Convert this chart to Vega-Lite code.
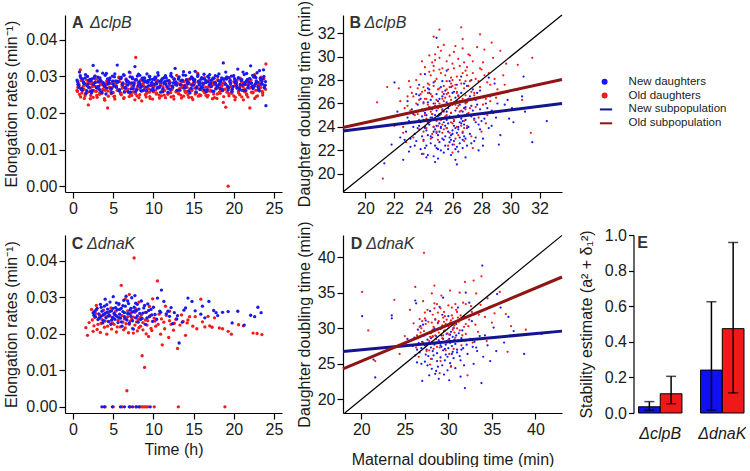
{
"$schema":"https://vega.github.io/schema/vega-lite/v6.json",
"padding":{"left":3,"top":0,"right":0,"bottom":0},
"config":{"font":"Liberation Sans","view":{"stroke":null},
"axis":{"grid":false,"domainColor":"#000","domainWidth":1.2,"tickColor":"#000","tickWidth":1.2,"tickSize":6,"labelFont":"Liberation Sans","labelFontSize":16,"labelColor":"#1a1a1a","labelPadding":2,"titleFont":"Liberation Sans","titleFontSize":16,"titleFontWeight":"normal","titleColor":"#1a1a1a","labelFlush":false,"labelOverlap":false,"tickCount":20},
"text":{"font":"Liberation Sans"}},
"datasets":{
"panels":[{"panel":"A","letter":"A","strain":"ΔclpB"},{"panel":"B","letter":"B","strain":"ΔclpB"},{"panel":"C","letter":"C","strain":"ΔdnaK"},{"panel":"D","letter":"D","strain":"ΔdnaK"},{"panel":"E","letter":"E","strain":""}],
"legend":[{"label":"New daughters"},{"label":"Old daughters"},{"label":"New subpopulation"},{"label":"Old subpopulation"}],
"E":[{"strain":"ΔclpB","g":"New","v":0.035,"lo":0.015,"hi":0.064},{"strain":"ΔclpB","g":"Old","v":0.108,"lo":0.052,"hi":0.206},{"strain":"ΔdnaK","g":"New","v":0.241,"lo":0.016,"hi":0.625},{"strain":"ΔdnaK","g":"Old","v":0.474,"lo":0.113,"hi":0.958}],
"B_lines":[{"g":"New","x":18.45,"y":23.65},{"g":"New","x":33.55,"y":26.0},{"g":"Old","x":18.45,"y":23.95},{"g":"Old","x":33.55,"y":28.05},{"g":"Diag","x":18.45,"y":18.45},{"g":"Diag","x":33.55,"y":33.55}],
"D_lines":[{"g":"New","x":17.9,"y":26.75},{"g":"New","x":43.05,"y":29.6},{"g":"Old","x":17.9,"y":24.3},{"g":"Old","x":43.05,"y":37.2},{"g":"Diag","x":18.1,"y":18.1},{"g":"Diag","x":43.05,"y":43.05}],
"A_new":[{"x":0.5,"y":0.029},{"x":0.7,"y":0.0275},{"x":0.9,"y":0.0302},{"x":1.1,"y":0.0268},{"x":1.3,"y":0.0285},{"x":1.5,"y":0.0296},{"x":1.7,"y":0.0261},{"x":1.9,"y":0.0279},{"x":2.1,"y":0.0292},{"x":2.3,"y":0.0255},{"x":2.5,"y":0.033},{"x":2.7,"y":0.0283},{"x":2.9,"y":0.0271},{"x":3.1,"y":0.0298},{"x":3.3,"y":0.0264},{"x":3.5,"y":0.0287},{"x":3.7,"y":0.0309},{"x":3.9,"y":0.0276},{"x":4.1,"y":0.0252},{"x":4.3,"y":0.0293},{"x":4.5,"y":0.0281},{"x":4.7,"y":0.0267},{"x":4.9,"y":0.0301},{"x":5.1,"y":0.0274},{"x":5.3,"y":0.0288},{"x":5.5,"y":0.0331},{"x":5.7,"y":0.0262},{"x":5.9,"y":0.0295},{"x":6.1,"y":0.0279},{"x":6.3,"y":0.0305},{"x":6.5,"y":0.027},{"x":6.7,"y":0.0286},{"x":6.9,"y":0.0258},{"x":7.1,"y":0.0299},{"x":7.3,"y":0.0282},{"x":7.5,"y":0.0266},{"x":7.7,"y":0.0327},{"x":7.9,"y":0.0291},{"x":8.1,"y":0.0275},{"x":8.3,"y":0.0303},{"x":8.5,"y":0.026},{"x":8.7,"y":0.0289},{"x":8.9,"y":0.0296},{"x":9.1,"y":0.0271},{"x":9.3,"y":0.0284},{"x":9.5,"y":0.03},{"x":9.7,"y":0.0263},{"x":9.9,"y":0.0292},{"x":10.1,"y":0.0278},{"x":10.3,"y":0.0297},{"x":10.5,"y":0.0269},{"x":10.7,"y":0.0287},{"x":10.9,"y":0.0257},{"x":11.1,"y":0.0294},{"x":11.3,"y":0.0281},{"x":11.5,"y":0.0302},{"x":11.7,"y":0.0272},{"x":11.9,"y":0.0288},{"x":12.1,"y":0.0265},{"x":12.3,"y":0.0299},{"x":12.5,"y":0.0283},{"x":12.7,"y":0.0322},{"x":12.9,"y":0.0276},{"x":13.1,"y":0.0293},{"x":13.3,"y":0.0262},{"x":13.5,"y":0.0289},{"x":13.7,"y":0.0304},{"x":13.9,"y":0.0274},{"x":14.1,"y":0.0291},{"x":14.3,"y":0.028},{"x":14.5,"y":0.0311},{"x":14.7,"y":0.0268},{"x":14.9,"y":0.0295},{"x":15.1,"y":0.0285},{"x":15.3,"y":0.0258},{"x":15.5,"y":0.03},{"x":15.7,"y":0.0277},{"x":15.9,"y":0.0292},{"x":16.1,"y":0.027},{"x":16.3,"y":0.0306},{"x":16.5,"y":0.0283},{"x":16.7,"y":0.0264},{"x":16.9,"y":0.0297},{"x":17.1,"y":0.0281},{"x":17.3,"y":0.029},{"x":17.5,"y":0.0259},{"x":17.7,"y":0.0302},{"x":17.9,"y":0.0275},{"x":18.1,"y":0.0288},{"x":18.3,"y":0.0267},{"x":18.5,"y":0.0296},{"x":18.7,"y":0.0337},{"x":18.9,"y":0.0279},{"x":19.1,"y":0.0293},{"x":19.3,"y":0.0263},{"x":19.5,"y":0.0286},{"x":19.7,"y":0.0301},{"x":19.9,"y":0.0272},{"x":20.1,"y":0.0294},{"x":20.3,"y":0.0282},{"x":20.5,"y":0.032},{"x":20.7,"y":0.0268},{"x":20.9,"y":0.029},{"x":21.1,"y":0.0277},{"x":21.3,"y":0.0305},{"x":21.5,"y":0.0261},{"x":21.7,"y":0.0292},{"x":21.9,"y":0.0284},{"x":22.1,"y":0.0329},{"x":22.3,"y":0.0273},{"x":22.5,"y":0.0298},{"x":22.7,"y":0.028},{"x":22.9,"y":0.031},{"x":23.1,"y":0.0265},{"x":23.3,"y":0.0295},{"x":23.5,"y":0.0286},{"x":23.7,"y":0.0318},{"x":23.9,"y":0.0276},{"x":24.0,"y":0.022},
{"x":0.6,"y":0.0278},{"x":0.8,"y":0.0312},{"x":1.0,"y":0.0265},{"x":1.2,"y":0.0293},{"x":1.4,"y":0.0281},{"x":1.6,"y":0.0254},{"x":1.8,"y":0.03},{"x":2.0,"y":0.027},{"x":2.2,"y":0.0288},{"x":2.4,"y":0.0262},{"x":2.6,"y":0.0296},{"x":2.8,"y":0.0284},{"x":3.0,"y":0.0315},{"x":3.2,"y":0.0273},{"x":3.4,"y":0.029},{"x":3.6,"y":0.0258},{"x":3.8,"y":0.028},{"x":4.0,"y":0.0303},{"x":4.2,"y":0.0268},{"x":4.4,"y":0.0286},{"x":4.6,"y":0.0296},{"x":4.8,"y":0.0255},{"x":5.0,"y":0.0279},{"x":5.2,"y":0.0307},{"x":5.4,"y":0.0271},{"x":5.6,"y":0.0287},{"x":5.8,"y":0.0264},{"x":6.0,"y":0.0298},{"x":6.2,"y":0.0282},{"x":6.4,"y":0.0257},{"x":6.6,"y":0.0291},{"x":6.8,"y":0.0276},{"x":7.0,"y":0.0312},{"x":7.2,"y":0.0266},{"x":7.4,"y":0.0294},{"x":7.6,"y":0.028},{"x":7.8,"y":0.0259},{"x":8.0,"y":0.0301},{"x":8.2,"y":0.0285},{"x":8.4,"y":0.027},{"x":8.6,"y":0.0295},{"x":8.8,"y":0.0263},{"x":9.0,"y":0.0288},{"x":9.2,"y":0.0307},{"x":9.4,"y":0.0275},{"x":9.6,"y":0.0292},{"x":9.8,"y":0.0284},{"x":10.0,"y":0.0261},{"x":10.2,"y":0.0298},{"x":10.4,"y":0.0279},{"x":10.6,"y":0.0303},{"x":10.8,"y":0.0273},{"x":11.0,"y":0.029},{"x":11.2,"y":0.0266},{"x":11.4,"y":0.0286},{"x":11.6,"y":0.0296},{"x":11.8,"y":0.0256},{"x":12.0,"y":0.0281},{"x":12.2,"y":0.0308},{"x":12.4,"y":0.0271},{"x":12.6,"y":0.0292},{"x":12.8,"y":0.0285},{"x":13.0,"y":0.0262},{"x":13.2,"y":0.0299},{"x":13.4,"y":0.0277},{"x":13.6,"y":0.029},{"x":13.8,"y":0.0268},{"x":14.0,"y":0.0303},{"x":14.2,"y":0.0283},{"x":14.4,"y":0.026},{"x":14.6,"y":0.0294},{"x":14.8,"y":0.0276},{"x":15.0,"y":0.0289},{"x":15.2,"y":0.0314},{"x":15.4,"y":0.027},{"x":15.6,"y":0.0287},{"x":15.8,"y":0.0264},{"x":16.0,"y":0.0297},{"x":16.2,"y":0.028},{"x":16.4,"y":0.0292},{"x":16.6,"y":0.0258},{"x":16.8,"y":0.0285},{"x":17.0,"y":0.0305},{"x":17.2,"y":0.0272},{"x":17.4,"y":0.0295},{"x":17.6,"y":0.0283},{"x":17.8,"y":0.0266},{"x":18.0,"y":0.03},{"x":18.2,"y":0.0278},{"x":18.4,"y":0.0289},{"x":18.6,"y":0.0261},{"x":18.8,"y":0.0293},{"x":19.0,"y":0.0312},{"x":19.2,"y":0.0274},{"x":19.4,"y":0.0297},{"x":19.6,"y":0.0281},{"x":19.8,"y":0.0265},{"x":20.0,"y":0.0302},{"x":20.2,"y":0.0287},{"x":20.4,"y":0.027},{"x":20.6,"y":0.0296},{"x":20.8,"y":0.0278},{"x":21.0,"y":0.0291},{"x":21.2,"y":0.0262},{"x":21.4,"y":0.0284},{"x":21.6,"y":0.0308},{"x":21.8,"y":0.0275},{"x":22.0,"y":0.0294},{"x":22.2,"y":0.0282},{"x":22.4,"y":0.0267},{"x":22.6,"y":0.03},{"x":22.8,"y":0.0288},{"x":23.0,"y":0.0272},{"x":23.2,"y":0.0316},{"x":23.4,"y":0.0279},{"x":23.6,"y":0.0293},{"x":23.8,"y":0.0269},
{"x":0.55,"y":0.0286},{"x":0.75,"y":0.027},{"x":0.95,"y":0.0297},{"x":1.15,"y":0.0262},{"x":1.35,"y":0.0281},{"x":1.55,"y":0.0305},{"x":1.75,"y":0.0274},{"x":1.95,"y":0.0289},{"x":2.15,"y":0.0259},{"x":2.35,"y":0.0293},{"x":2.55,"y":0.0278},{"x":2.75,"y":0.0301},{"x":2.95,"y":0.0268},{"x":3.15,"y":0.0285},{"x":3.35,"y":0.0296},{"x":3.55,"y":0.0256},{"x":3.75,"y":0.0283},{"x":3.95,"y":0.0272},{"x":4.15,"y":0.0308},{"x":4.35,"y":0.0279},{"x":4.55,"y":0.029},{"x":4.75,"y":0.0265},{"x":4.95,"y":0.0287},{"x":5.15,"y":0.0299},{"x":5.35,"y":0.0271},{"x":5.55,"y":0.0284},{"x":5.75,"y":0.026},{"x":5.95,"y":0.0294},{"x":6.15,"y":0.0277},{"x":6.35,"y":0.0303},{"x":6.55,"y":0.0269},{"x":6.75,"y":0.0288},{"x":6.95,"y":0.0282},{"x":7.15,"y":0.0257},{"x":7.35,"y":0.0298},{"x":7.55,"y":0.0275},{"x":7.75,"y":0.0291},{"x":7.95,"y":0.0264},{"x":8.15,"y":0.0306},{"x":8.35,"y":0.028},{"x":8.55,"y":0.0273},{"x":8.75,"y":0.0295},{"x":8.95,"y":0.0286},{"x":9.15,"y":0.0261},{"x":9.35,"y":0.0289},{"x":9.55,"y":0.03},{"x":9.75,"y":0.0276},{"x":9.95,"y":0.0267},{"x":10.15,"y":0.0292},{"x":10.35,"y":0.0283},{"x":10.55,"y":0.031},{"x":10.75,"y":0.027},{"x":10.95,"y":0.0285},{"x":11.15,"y":0.0258},{"x":11.35,"y":0.0297},{"x":11.55,"y":0.0279},{"x":11.75,"y":0.0288},{"x":11.95,"y":0.0266},{"x":12.15,"y":0.0302},{"x":12.35,"y":0.0274},{"x":12.55,"y":0.0293},{"x":12.75,"y":0.0281},{"x":12.95,"y":0.0262},{"x":13.15,"y":0.0296},{"x":13.35,"y":0.0278},{"x":13.55,"y":0.0287},{"x":13.75,"y":0.0313},{"x":13.95,"y":0.0269},{"x":14.15,"y":0.029},{"x":14.35,"y":0.0284},{"x":14.55,"y":0.0255},{"x":14.75,"y":0.0299},{"x":14.95,"y":0.0276},{"x":15.15,"y":0.0291},{"x":15.35,"y":0.0268},{"x":15.55,"y":0.0304},{"x":15.75,"y":0.0282},{"x":15.95,"y":0.0271},{"x":16.15,"y":0.0294},{"x":16.35,"y":0.0263},{"x":16.55,"y":0.0286},{"x":16.75,"y":0.03},{"x":16.95,"y":0.0277},{"x":17.15,"y":0.0289},{"x":17.35,"y":0.026},{"x":17.55,"y":0.0295},{"x":17.75,"y":0.0281},{"x":17.95,"y":0.0272},{"x":18.15,"y":0.0307},{"x":18.35,"y":0.0285},{"x":18.55,"y":0.0266},{"x":18.75,"y":0.0292},{"x":18.95,"y":0.0279},{"x":19.15,"y":0.0298},{"x":19.35,"y":0.027},{"x":19.55,"y":0.0288},{"x":19.75,"y":0.0259},{"x":19.95,"y":0.0301},{"x":20.15,"y":0.0283},{"x":20.35,"y":0.0275},{"x":20.55,"y":0.0296},{"x":20.75,"y":0.0264},{"x":20.95,"y":0.029},{"x":21.15,"y":0.0312},{"x":21.35,"y":0.0278},{"x":21.55,"y":0.0287},{"x":21.75,"y":0.0269},{"x":21.95,"y":0.0294},{"x":22.15,"y":0.0281},{"x":22.35,"y":0.0303},{"x":22.55,"y":0.0273},{"x":22.75,"y":0.0297},{"x":22.95,"y":0.0284},{"x":23.15,"y":0.0262},{"x":23.35,"y":0.0291},{"x":23.55,"y":0.0279},{"x":23.75,"y":0.03},{"x":23.95,"y":0.0286}],
"A_old":[{"x":0.5,"y":0.0262},{"x":0.7,"y":0.0281},{"x":0.9,"y":0.0318},{"x":1.1,"y":0.0255},{"x":1.3,"y":0.0274},{"x":1.5,"y":0.0247},{"x":1.7,"y":0.029},{"x":1.9,"y":0.0222},{"x":2.1,"y":0.0268},{"x":2.3,"y":0.0279},{"x":2.5,"y":0.0243},{"x":2.7,"y":0.0301},{"x":2.9,"y":0.0259},{"x":3.1,"y":0.0272},{"x":3.3,"y":0.0251},{"x":3.5,"y":0.0285},{"x":3.7,"y":0.0264},{"x":3.9,"y":0.0239},{"x":4.1,"y":0.0276},{"x":4.3,"y":0.0214},{"x":4.5,"y":0.0293},{"x":4.7,"y":0.0258},{"x":4.9,"y":0.027},{"x":5.1,"y":0.0245},{"x":5.3,"y":0.0283},{"x":5.5,"y":0.0262},{"x":5.7,"y":0.0298},{"x":5.9,"y":0.0253},{"x":6.1,"y":0.0274},{"x":6.3,"y":0.024},{"x":6.5,"y":0.0267},{"x":6.7,"y":0.0288},{"x":6.9,"y":0.0256},{"x":7.1,"y":0.031},{"x":7.3,"y":0.0248},{"x":7.5,"y":0.0271},{"x":7.7,"y":0.0236},{"x":7.8,"y":0.0352},{"x":7.9,"y":0.0265},{"x":8.1,"y":0.0282},{"x":8.3,"y":0.025},{"x":8.5,"y":0.0276},{"x":8.7,"y":0.0261},{"x":8.9,"y":0.0294},{"x":9.1,"y":0.0244},{"x":9.3,"y":0.0269},{"x":9.5,"y":0.0257},{"x":9.7,"y":0.028},{"x":9.9,"y":0.0238},{"x":10.1,"y":0.0273},{"x":10.3,"y":0.0263},{"x":10.5,"y":0.0289},{"x":10.7,"y":0.0249},{"x":10.9,"y":0.0277},{"x":11.1,"y":0.0259},{"x":11.3,"y":0.0296},{"x":11.5,"y":0.0242},{"x":11.7,"y":0.027},{"x":11.9,"y":0.0255},{"x":12.1,"y":0.0284},{"x":12.3,"y":0.0264},{"x":12.5,"y":0.0246},{"x":12.7,"y":0.0278},{"x":12.9,"y":0.0303},{"x":13.1,"y":0.0253},{"x":13.3,"y":0.0268},{"x":13.5,"y":0.0241},{"x":13.7,"y":0.0287},{"x":13.9,"y":0.026},{"x":14.1,"y":0.0275},{"x":14.3,"y":0.025},{"x":14.5,"y":0.0292},{"x":14.7,"y":0.0263},{"x":14.9,"y":0.0237},{"x":15.1,"y":0.0279},{"x":15.3,"y":0.0256},{"x":15.5,"y":0.0309},{"x":15.7,"y":0.0266},{"x":15.9,"y":0.0248},{"x":16.1,"y":0.0282},{"x":16.3,"y":0.0258},{"x":16.5,"y":0.0271},{"x":16.7,"y":0.0244},{"x":16.9,"y":0.029},{"x":17.1,"y":0.0261},{"x":17.3,"y":0.0276},{"x":17.5,"y":0.0252},{"x":17.7,"y":0.0285},{"x":17.9,"y":0.024},{"x":18.1,"y":0.0269},{"x":18.3,"y":0.0254},{"x":18.5,"y":0.0281},{"x":18.7,"y":0.0229},{"x":18.9,"y":0.0265},{"x":19.1,"y":0.0298},{"x":19.3,"y":0.0},{"x":19.4,"y":0.0247},{"x":19.6,"y":0.0273},{"x":19.8,"y":0.0259},{"x":20.0,"y":0.0286},{"x":20.2,"y":0.0243},{"x":20.4,"y":0.0268},{"x":20.6,"y":0.0255},{"x":20.8,"y":0.0295},{"x":21.0,"y":0.0262},{"x":21.2,"y":0.0236},{"x":21.4,"y":0.0279},{"x":21.6,"y":0.025},{"x":21.8,"y":0.0288},{"x":22.0,"y":0.0214},{"x":22.2,"y":0.0271},{"x":22.4,"y":0.0257},{"x":22.6,"y":0.0305},{"x":22.8,"y":0.0245},{"x":23.0,"y":0.0277},{"x":23.2,"y":0.026},{"x":23.4,"y":0.0291},{"x":23.6,"y":0.0249},{"x":23.8,"y":0.0274},{"x":24.0,"y":0.0334},
{"x":0.6,"y":0.027},{"x":0.8,"y":0.0251},{"x":1.0,"y":0.0289},{"x":1.2,"y":0.0263},{"x":1.4,"y":0.024},{"x":1.6,"y":0.0278},{"x":1.8,"y":0.0257},{"x":2.0,"y":0.0284},{"x":2.2,"y":0.0248},{"x":2.4,"y":0.0272},{"x":2.6,"y":0.026},{"x":2.8,"y":0.0292},{"x":3.0,"y":0.0243},{"x":3.2,"y":0.0266},{"x":3.4,"y":0.028},{"x":3.6,"y":0.0254},{"x":3.8,"y":0.0275},{"x":4.0,"y":0.0262},{"x":4.2,"y":0.0288},{"x":4.4,"y":0.0246},{"x":4.6,"y":0.0269},{"x":4.8,"y":0.0281},{"x":5.0,"y":0.0256},{"x":5.2,"y":0.0238},{"x":5.4,"y":0.0274},{"x":5.6,"y":0.0263},{"x":5.8,"y":0.0286},{"x":6.0,"y":0.025},{"x":6.2,"y":0.0271},{"x":6.4,"y":0.0259},{"x":6.6,"y":0.0293},{"x":6.8,"y":0.0265},{"x":7.0,"y":0.0245},{"x":7.2,"y":0.0279},{"x":7.4,"y":0.0257},{"x":7.6,"y":0.0284},{"x":7.8,"y":0.0253},{"x":8.0,"y":0.027},{"x":8.2,"y":0.0242},{"x":8.4,"y":0.0289},{"x":8.6,"y":0.0261},{"x":8.8,"y":0.0274},{"x":9.0,"y":0.025},{"x":9.2,"y":0.0283},{"x":9.4,"y":0.0266},{"x":9.6,"y":0.024},{"x":9.8,"y":0.0277},{"x":10.0,"y":0.0258},{"x":10.2,"y":0.029},{"x":10.4,"y":0.0254},{"x":10.6,"y":0.0268},{"x":10.8,"y":0.0282},{"x":11.0,"y":0.0247},{"x":11.2,"y":0.0272},{"x":11.4,"y":0.0261},{"x":11.6,"y":0.0287},{"x":11.8,"y":0.0251},{"x":12.0,"y":0.0275},{"x":12.2,"y":0.0244},{"x":12.4,"y":0.0269},{"x":12.6,"y":0.0293},{"x":12.8,"y":0.0258},{"x":13.0,"y":0.0281},{"x":13.2,"y":0.0264},{"x":13.4,"y":0.0249},{"x":13.6,"y":0.0276},{"x":13.8,"y":0.0286},{"x":14.0,"y":0.0256},{"x":14.2,"y":0.027},{"x":14.4,"y":0.0243},{"x":14.6,"y":0.0279},{"x":14.8,"y":0.0262},{"x":15.0,"y":0.029},{"x":15.2,"y":0.0252},{"x":15.4,"y":0.0273},{"x":15.6,"y":0.0246},{"x":15.8,"y":0.0284},{"x":16.0,"y":0.0265},{"x":16.2,"y":0.0277},{"x":16.4,"y":0.0255},{"x":16.6,"y":0.0288},{"x":16.8,"y":0.0248},{"x":17.0,"y":0.0271},{"x":17.2,"y":0.026},{"x":17.4,"y":0.0282},{"x":17.6,"y":0.0242},{"x":17.8,"y":0.0268},{"x":18.0,"y":0.0291},{"x":18.2,"y":0.0257},{"x":18.4,"y":0.0274},{"x":18.6,"y":0.0263},{"x":18.8,"y":0.0285},{"x":19.0,"y":0.0216},{"x":19.2,"y":0.027},{"x":19.4,"y":0.0253},{"x":19.6,"y":0.028},{"x":19.8,"y":0.0266},{"x":20.0,"y":0.0247},{"x":20.2,"y":0.0276},{"x":20.4,"y":0.0289},{"x":20.6,"y":0.0259},{"x":20.8,"y":0.0273},{"x":21.0,"y":0.0244},{"x":21.2,"y":0.0283},{"x":21.4,"y":0.0265},{"x":21.6,"y":0.0252},{"x":21.8,"y":0.0278},{"x":22.0,"y":0.029},{"x":22.2,"y":0.0257},{"x":22.4,"y":0.0269},{"x":22.6,"y":0.024},{"x":22.8,"y":0.0281},{"x":23.0,"y":0.0263},{"x":23.2,"y":0.0275},{"x":23.4,"y":0.0298},{"x":23.6,"y":0.0255},{"x":23.8,"y":0.027},
{"x":0.55,"y":0.0259},{"x":0.75,"y":0.0276},{"x":0.95,"y":0.0244},{"x":1.15,"y":0.0288},{"x":1.35,"y":0.0265},{"x":1.55,"y":0.0251},{"x":1.75,"y":0.028},{"x":1.95,"y":0.027},{"x":2.15,"y":0.0239},{"x":2.35,"y":0.0284},{"x":2.55,"y":0.0262},{"x":2.75,"y":0.0273},{"x":2.95,"y":0.0248},{"x":3.15,"y":0.0291},{"x":3.35,"y":0.0257},{"x":3.55,"y":0.0278},{"x":3.75,"y":0.0266},{"x":3.95,"y":0.0235},{"x":4.15,"y":0.0282},{"x":4.35,"y":0.026},{"x":4.55,"y":0.0271},{"x":4.75,"y":0.0253},{"x":4.95,"y":0.0287},{"x":5.15,"y":0.0246},{"x":5.35,"y":0.0275},{"x":5.55,"y":0.0264},{"x":5.75,"y":0.0296},{"x":5.95,"y":0.0255},{"x":6.15,"y":0.0268},{"x":6.35,"y":0.0242},{"x":6.55,"y":0.0279},{"x":6.75,"y":0.0261},{"x":6.95,"y":0.0285},{"x":7.15,"y":0.025},{"x":7.35,"y":0.0272},{"x":7.55,"y":0.0258},{"x":7.75,"y":0.029},{"x":7.95,"y":0.0247},{"x":8.15,"y":0.0277},{"x":8.35,"y":0.0263},{"x":8.55,"y":0.0233},{"x":8.75,"y":0.0281},{"x":8.95,"y":0.0269},{"x":9.15,"y":0.0254},{"x":9.35,"y":0.0286},{"x":9.55,"y":0.0245},{"x":9.75,"y":0.0274},{"x":9.95,"y":0.026},{"x":10.15,"y":0.0293},{"x":10.35,"y":0.0252},{"x":10.55,"y":0.027},{"x":10.75,"y":0.0241},{"x":10.95,"y":0.0283},{"x":11.15,"y":0.0264},{"x":11.35,"y":0.0249},{"x":11.55,"y":0.0278},{"x":11.75,"y":0.0267},{"x":11.95,"y":0.0289},{"x":12.15,"y":0.0256},{"x":12.35,"y":0.0273},{"x":12.55,"y":0.0238},{"x":12.75,"y":0.028},{"x":12.95,"y":0.0262},{"x":13.15,"y":0.0253},{"x":13.35,"y":0.0287},{"x":13.55,"y":0.027},{"x":13.75,"y":0.0246},{"x":13.95,"y":0.0276},{"x":14.15,"y":0.0259},{"x":14.35,"y":0.0292},{"x":14.55,"y":0.0265},{"x":14.75,"y":0.0243},{"x":14.95,"y":0.0281},{"x":15.15,"y":0.0268},{"x":15.35,"y":0.0255},{"x":15.55,"y":0.0284},{"x":15.75,"y":0.025},{"x":15.95,"y":0.0274},{"x":16.15,"y":0.0262},{"x":16.35,"y":0.0297},{"x":16.55,"y":0.0248},{"x":16.75,"y":0.0271},{"x":16.95,"y":0.026},{"x":17.15,"y":0.0283},{"x":17.35,"y":0.0239},{"x":17.55,"y":0.0277},{"x":17.75,"y":0.0266},{"x":17.95,"y":0.0252},{"x":18.15,"y":0.0288},{"x":18.35,"y":0.0263},{"x":18.55,"y":0.0275},{"x":18.75,"y":0.0245},{"x":18.95,"y":0.028},{"x":19.15,"y":0.0257},{"x":19.35,"y":0.0269},{"x":19.55,"y":0.0291},{"x":19.75,"y":0.0254},{"x":19.95,"y":0.0273},{"x":20.15,"y":0.0236},{"x":20.35,"y":0.0282},{"x":20.55,"y":0.0264},{"x":20.75,"y":0.025},{"x":20.95,"y":0.0286},{"x":21.15,"y":0.0271},{"x":21.35,"y":0.0258},{"x":21.55,"y":0.0279},{"x":21.75,"y":0.0244},{"x":21.95,"y":0.0268},{"x":22.15,"y":0.029},{"x":22.35,"y":0.0255},{"x":22.55,"y":0.0276},{"x":22.75,"y":0.0262},{"x":22.95,"y":0.0247},{"x":23.15,"y":0.0283},{"x":23.35,"y":0.027},{"x":23.55,"y":0.0259},{"x":23.75,"y":0.0294},{"x":23.95,"y":0.0265}],
"B_new":[{"x":25.1,"y":24.3},{"x":24.6,"y":23.1},{"x":26.2,"y":25.4},{"x":25.8,"y":22.7},{"x":23.9,"y":24.9},{"x":27.1,"y":24.0},{"x":24.3,"y":26.1},{"x":26.7,"y":23.5},{"x":25.4,"y":25.8},{"x":22.8,"y":23.6},{"x":28.2,"y":25.1},{"x":24.9,"y":22.2},{"x":26.0,"y":26.9},{"x":25.6,"y":24.6},{"x":23.5,"y":22.8},{"x":27.6,"y":26.3},{"x":24.1,"y":25.2},{"x":26.4,"y":21.9},{"x":25.2,"y":27.4},{"x":29.0,"y":24.8},{"x":24.7,"y":24.0},{"x":26.9,"y":25.7},{"x":23.2,"y":25.5},{"x":25.9,"y":23.3},{"x":27.3,"y":22.6},{"x":24.4,"y":27.2},{"x":26.1,"y":24.5},{"x":25.0,"y":21.3},{"x":28.6,"y":26.6},{"x":22.5,"y":24.3},{"x":26.6,"y":28.3},{"x":24.8,"y":25.0},{"x":27.9,"y":23.8},{"x":25.3,"y":23.0},{"x":23.7,"y":26.7},{"x":26.3,"y":22.3},{"x":25.7,"y":25.6},{"x":24.2,"y":23.7},{"x":29.6,"y":25.9},{"x":27.0,"y":27.5},{"x":25.5,"y":24.1},{"x":23.0,"y":21.9},{"x":26.8,"y":24.2},{"x":24.0,"y":24.6},{"x":28.0,"y":24.5},{"x":25.1,"y":26.4},{"x":26.5,"y":23.1},{"x":22.2,"y":25.3},{"x":24.5,"y":22.6},{"x":27.4,"y":25.4},{"x":30.2,"y":24.4},{"x":25.8,"y":27.9},{"x":24.9,"y":25.4},{"x":26.2,"y":23.9},{"x":23.4,"y":23.4},{"x":27.8,"y":22.0},{"x":25.4,"y":22.9},{"x":26.0,"y":24.8},{"x":24.6,"y":26.6},{"x":28.9,"y":27.7},{"x":21.8,"y":22.5},{"x":25.2,"y":25.1},{"x":26.9,"y":26.1},{"x":24.3,"y":24.4},{"x":27.2,"y":23.4},{"x":23.8,"y":22.1},{"x":25.6,"y":28.8},{"x":26.4,"y":25.0},{"x":29.3,"y":23.3},{"x":24.1,"y":23.9},{"x":25.9,"y":21.6},{"x":27.5,"y":24.7},{"x":23.6,"y":25.9},{"x":26.7,"y":22.9},{"x":25.0,"y":24.9},{"x":28.4,"y":25.6},{"x":24.8,"y":21.0},{"x":26.1,"y":27.0},{"x":22.9,"y":26.2},{"x":27.7,"y":26.9},{"x":25.3,"y":24.7},{"x":24.4,"y":25.7},{"x":30.8,"y":26.6},{"x":26.6,"y":24.3},{"x":23.3,"y":24.0},{"x":25.7,"y":23.6},{"x":28.1,"y":23.0},{"x":24.2,"y":22.4},{"x":26.3,"y":26.2},{"x":31.5,"y":22.7},{"x":25.5,"y":22.4},{"x":27.0,"y":25.1},{"x":24.7,"y":27.8},{"x":26.8,"y":23.2},{"x":23.1,"y":23.0},{"x":25.1,"y":23.6},{"x":29.8,"y":26.3},{"x":24.0,"y":25.4},{"x":26.5,"y":25.9},{"x":27.3,"y":28.0},{"x":32.5,"y":24.5},{"x":25.8,"y":24.9},{"x":24.5,"y":24.8},{"x":26.2,"y":22.1},{"x":28.7,"y":24.1},{"x":23.7,"y":27.6},{"x":25.9,"y":26.0},{"x":27.9,"y":25.5},{"x":24.9,"y":23.5},{"x":26.0,"y":23.7},{"x":21.3,"y":20.9},{"x":30.5,"y":27.2},{"x":25.4,"y":26.8},{"x":26.9,"y":21.4},{"x":24.3,"y":21.6},{"x":27.6,"y":24.4},{"x":22.6,"y":21.2},{"x":28.5,"y":28.2},{"x":25.6,"y":25.3},{"x":24.1,"y":28.5},{"x":26.4,"y":24.0},{"x":23.9,"y":23.2},{"x":27.2,"y":26.6},{"x":31.0,"y":25.3},{"x":25.2,"y":22.0},{"x":24.6,"y":24.8},{"x":26.7,"y":25.3},{"x":29.2,"y":22.5},{"x":23.5,"y":26.8},{"x":25.0,"y":25.7},{"x":24.9,"y":31.6},{"x":26.3,"y":20.8},{"x":22.0,"y":27.8},{"x":30.9,"y":28.3},
{"x":25.3,"y":25.5},{"x":24.8,"y":23.8},{"x":26.1,"y":22.8},{"x":25.6,"y":26.1},{"x":24.2,"y":25.0},{"x":26.6,"y":24.7},{"x":25.0,"y":23.3},{"x":27.0,"y":23.9},{"x":23.8,"y":24.4},{"x":25.9,"y":25.2},{"x":26.4,"y":26.7},{"x":24.5,"y":23.2},{"x":25.2,"y":24.0},{"x":27.3,"y":24.9},{"x":23.6,"y":23.9},{"x":26.0,"y":22.5},{"x":24.7,"y":26.0},{"x":25.7,"y":24.3},{"x":28.3,"y":26.0},{"x":24.0,"y":22.9},{"x":26.9,"y":24.6},{"x":25.4,"y":21.8},{"x":23.3,"y":25.1},{"x":27.6,"y":23.1},{"x":24.4,"y":24.2},{"x":26.2,"y":26.5},{"x":25.1,"y":22.7},{"x":28.8,"y":25.2},{"x":24.9,"y":26.8},{"x":26.5,"y":24.4},{"x":23.9,"y":21.7},{"x":25.8,"y":23.1},{"x":27.1,"y":26.4},{"x":24.6,"y":25.5},{"x":26.3,"y":23.5},{"x":22.7,"y":22.9},{"x":25.5,"y":27.1},{"x":27.8,"y":24.2},{"x":24.1,"y":24.0},{"x":26.8,"y":25.6},{"x":25.0,"y":26.2},{"x":23.4,"y":22.4},{"x":26.0,"y":25.9},{"x":28.1,"y":22.4},{"x":24.7,"y":21.5},{"x":25.6,"y":23.9},{"x":27.4,"y":27.2},{"x":24.3,"y":23.3},{"x":26.7,"y":22.2},{"x":25.3,"y":26.6},{"x":23.0,"y":24.5},{"x":26.1,"y":24.1},{"x":29.1,"y":26.0},{"x":24.8,"y":22.4},{"x":25.9,"y":27.4},{"x":27.2,"y":25.0},{"x":24.5,"y":26.3},{"x":26.4,"y":23.8},{"x":22.4,"y":23.1},{"x":25.2,"y":23.9},{"x":27.7,"y":25.9},{"x":24.0,"y":26.1},{"x":26.6,"y":26.9},{"x":25.7,"y":22.1},{"x":23.7,"y":24.1},{"x":28.5,"y":23.9},{"x":25.1,"y":25.0},{"x":26.3,"y":27.6},{"x":24.2,"y":21.4},{"x":27.5,"y":22.8},{"x":25.4,"y":24.4},{"x":23.1,"y":22.3},{"x":26.9,"y":23.0},{"x":24.6,"y":25.1},{"x":25.8,"y":25.8},{"x":29.9,"y":24.7},{"x":24.3,"y":27.3},{"x":26.2,"y":21.2},{"x":25.0,"y":22.1},{"x":27.9,"y":27.1},{"x":23.5,"y":25.3},{"x":26.5,"y":22.6},{"x":25.6,"y":24.8},{"x":24.1,"y":22.2},{"x":27.3,"y":25.8},{"x":25.3,"y":27.9},{"x":26.7,"y":24.5},{"x":22.9,"y":24.8},{"x":28.2,"y":24.7},{"x":24.9,"y":24.1},{"x":30.1,"y":25.6},{"x":26.0,"y":23.4},{"x":24.4,"y":26.9},{"x":25.5,"y":23.2},{"x":27.0,"y":22.4},{"x":23.8,"y":26.4},{"x":26.8,"y":27.7},{"x":25.9,"y":22.9},{"x":28.7,"y":25.4},{"x":24.7,"y":23.6}],
"B_old":[{"x":25.6,"y":26.8},{"x":24.9,"y":28.1},{"x":26.5,"y":25.3},{"x":27.2,"y":27.9},{"x":24.1,"y":25.0},{"x":26.0,"y":29.4},{"x":25.3,"y":24.2},{"x":27.8,"y":26.5},{"x":23.7,"y":26.3},{"x":26.8,"y":23.9},{"x":25.1,"y":27.3},{"x":28.5,"y":28.6},{"x":24.6,"y":23.4},{"x":26.3,"y":27.0},{"x":22.9,"y":25.8},{"x":27.5,"y":24.6},{"x":25.8,"y":30.1},{"x":24.3,"y":26.9},{"x":26.9,"y":28.8},{"x":23.4,"y":24.4},{"x":25.0,"y":25.6},{"x":28.1,"y":25.9},{"x":26.2,"y":23.0},{"x":24.7,"y":29.2},{"x":27.0,"y":26.1},{"x":25.5,"y":24.9},{"x":23.1,"y":27.4},{"x":26.7,"y":30.7},{"x":24.0,"y":23.6},{"x":29.1,"y":27.2},{"x":25.9,"y":26.3},{"x":27.4,"y":29.6},{"x":24.4,"y":27.6},{"x":26.1,"y":24.6},{"x":22.4,"y":26.2},{"x":28.3,"y":24.3},{"x":25.2,"y":28.6},{"x":26.6,"y":32.5},{"x":23.9,"y":25.5},{"x":27.7,"y":30.8},{"x":24.8,"y":26.0},{"x":26.4,"y":25.8},{"x":25.7,"y":22.4},{"x":28.8,"y":29.9},{"x":23.5,"y":28.0},{"x":26.9,"y":26.7},{"x":25.4,"y":31.0},{"x":24.2,"y":24.7},{"x":27.1,"y":25.2},{"x":22.0,"y":24.1},{"x":25.9,"y":27.7},{"x":29.5,"y":28.4},{"x":24.5,"y":25.3},{"x":26.8,"y":22.8},{"x":25.1,"y":29.9},{"x":27.9,"y":27.4},{"x":23.3,"y":23.1},{"x":26.0,"y":26.0},{"x":24.7,"y":31.7},{"x":28.0,"y":23.6},{"x":25.6,"y":25.0},{"x":26.3,"y":28.3},{"x":23.8,"y":26.8},{"x":27.3,"y":23.2},{"x":24.9,"y":24.5},{"x":30.0,"y":27.1},{"x":25.3,"y":27.0},{"x":26.6,"y":24.1},{"x":22.6,"y":24.0},{"x":27.6,"y":28.1},{"x":24.1,"y":27.1},{"x":26.1,"y":30.4},{"x":25.8,"y":23.5},{"x":28.6,"y":26.2},{"x":23.6,"y":25.1},{"x":26.7,"y":26.4},{"x":25.0,"y":22.9},{"x":29.7,"y":29.4},{"x":24.4,"y":28.7},{"x":27.2,"y":25.6},{"x":21.2,"y":19.6},{"x":25.5,"y":26.5},{"x":26.4,"y":23.3},{"x":24.0,"y":22.8},{"x":28.2,"y":30.6},{"x":25.2,"y":25.7},{"x":23.0,"y":27.9},{"x":27.0,"y":29.1},{"x":26.0,"y":21.8},{"x":24.6,"y":26.6},{"x":31.5,"y":29.9},{"x":25.7,"y":28.9},{"x":26.9,"y":25.0},{"x":23.7,"y":23.8},{"x":27.8,"y":24.8},{"x":24.8,"y":30.2},{"x":26.2,"y":27.6},{"x":22.3,"y":27.3},{"x":28.9,"y":25.3},{"x":25.4,"y":23.8},{"x":25.1,"y":32.3},{"x":27.4,"y":22.2},{"x":24.3,"y":25.9},{"x":26.5,"y":29.2},{"x":23.2,"y":26.9},{"x":29.3,"y":30.5},{"x":25.9,"y":24.4},{"x":26.8,"y":27.3},{"x":24.5,"y":23.0},{"x":30.5,"y":29.3},{"x":22.8,"y":22.7},{"x":25.6,"y":27.9},{"x":27.1,"y":30.2},{"x":24.2,"y":26.4},{"x":26.3,"y":25.6},{"x":21.5,"y":27.4},{"x":28.4,"y":27.8},{"x":25.0,"y":30.8},{"x":26.7,"y":23.6},{"x":23.9,"y":29.6},{"x":27.5,"y":26.9},{"x":25.3,"y":25.4},{"x":24.7,"y":27.5},{"x":30.8,"y":26.3},{"x":26.1,"y":22.5},{"x":22.6,"y":23.5},{"x":31.4,"y":23.5},{"x":20.8,"y":26.1},{"x":27.9,"y":31.9},{"x":24.0,"y":21.7},
{"x":25.4,"y":26.2},{"x":26.2,"y":27.3},{"x":24.6,"y":25.1},{"x":27.0,"y":28.4},{"x":25.8,"y":24.8},{"x":23.9,"y":27.0},{"x":26.9,"y":25.5},{"x":25.1,"y":26.0},{"x":28.0,"y":28.9},{"x":24.3,"y":24.3},{"x":26.4,"y":29.8},{"x":25.6,"y":23.9},{"x":27.5,"y":26.7},{"x":24.8,"y":27.9},{"x":26.1,"y":26.1},{"x":23.4,"y":25.0},{"x":25.3,"y":29.0},{"x":27.7,"y":25.1},{"x":24.1,"y":26.4},{"x":26.6,"y":27.7},{"x":25.9,"y":25.2},{"x":28.6,"y":27.6},{"x":24.5,"y":28.4},{"x":26.3,"y":24.0},{"x":25.0,"y":27.2},{"x":27.2,"y":30.1},{"x":23.7,"y":24.6},{"x":26.0,"y":28.0},{"x":25.7,"y":26.9},{"x":29.0,"y":26.5},{"x":24.4,"y":25.7},{"x":26.8,"y":29.5},{"x":25.2,"y":24.6},{"x":27.9,"y":29.0},{"x":24.9,"y":26.3},{"x":26.5,"y":26.2},{"x":23.1,"y":25.4},{"x":25.5,"y":28.4},{"x":28.3,"y":26.4},{"x":24.0,"y":26.0},{"x":26.7,"y":28.6},{"x":25.8,"y":27.4},{"x":24.7,"y":24.0},{"x":27.3,"y":27.0},{"x":25.1,"y":25.1},{"x":26.2,"y":30.9},{"x":23.6,"y":27.3},{"x":28.9,"y":28.1},{"x":25.6,"y":29.6},{"x":24.2,"y":23.9},{"x":26.9,"y":27.9},{"x":25.3,"y":26.4},{"x":27.6,"y":25.7},{"x":24.6,"y":29.5},{"x":26.0,"y":24.3},{"x":22.7,"y":25.6},{"x":25.9,"y":28.2},{"x":28.1,"y":29.5},{"x":24.8,"y":25.8},{"x":26.4,"y":26.6},{"x":25.0,"y":24.1},{"x":27.1,"y":27.5},{"x":23.8,"y":28.5},{"x":26.6,"y":25.4},{"x":25.4,"y":27.5},{"x":29.6,"y":27.6},{"x":24.3,"y":27.7},{"x":26.1,"y":29.0},{"x":25.7,"y":25.9},{"x":27.4,"y":28.6},{"x":24.9,"y":23.6},{"x":26.3,"y":26.9},{"x":23.3,"y":26.6},{"x":25.2,"y":30.5},{"x":28.4,"y":25.0},{"x":24.5,"y":26.8},{"x":26.8,"y":24.5},{"x":25.6,"y":27.2},{"x":27.8,"y":27.9},{"x":24.1,"y":29.1},{"x":26.5,"y":28.0},{"x":25.1,"y":28.9},{"x":23.5,"y":26.0},{"x":27.0,"y":24.1},{"x":25.8,"y":26.6},{"x":24.7,"y":28.8},{"x":26.2,"y":25.9},{"x":28.7,"y":31.2},{"x":25.4,"y":25.3},{"x":24.0,"y":27.4},{"x":26.7,"y":31.5},{"x":25.3,"y":23.5},{"x":27.2,"y":26.3},{"x":24.4,"y":30.1},{"x":26.0,"y":27.5},{"x":22.9,"y":26.6},{"x":25.5,"y":25.8},{"x":28.2,"y":28.4},{"x":24.8,"y":29.7},{"x":26.9,"y":26.0}],
"C_new":[{"x":2.5,"y":0.0258},{"x":2.7,"y":0.0262},{"x":2.8,"y":0.0247},{"x":3.0,"y":0.027},{"x":3.1,"y":0.0239},{"x":3.2,"y":0.0255},{"x":3.4,"y":0.0281},{"x":3.5,"y":0.0248},{"x":3.6,"y":0.0262},{"x":3.7,"y":0.023},{"x":3.8,"y":0.0253},{"x":3.9,"y":0.0276},{"x":4.0,"y":0.0295},{"x":4.1,"y":0.0244},{"x":4.2,"y":0.0259},{"x":4.3,"y":0.0268},{"x":4.4,"y":0.0234},{"x":4.5,"y":0.0251},{"x":4.6,"y":0.0287},{"x":4.7,"y":0.0226},{"x":4.8,"y":0.0263},{"x":4.9,"y":0.0245},{"x":5.0,"y":0.0302},{"x":5.1,"y":0.0256},{"x":5.2,"y":0.024},{"x":5.3,"y":0.0272},{"x":5.4,"y":0.0249},{"x":5.5,"y":0.0266},{"x":5.6,"y":0.0231},{"x":5.7,"y":0.0283},{"x":5.8,"y":0.0254},{"x":5.9,"y":0.0243},{"x":6.0,"y":0.027},{"x":6.1,"y":0.0221},{"x":6.2,"y":0.0261},{"x":6.3,"y":0.0292},{"x":6.4,"y":0.0247},{"x":6.5,"y":0.0276},{"x":6.6,"y":0.0303},{"x":6.7,"y":0.0238},{"x":6.8,"y":0.0256},{"x":6.9,"y":0.0283},{"x":7.0,"y":0.0229},{"x":7.1,"y":0.0265},{"x":7.2,"y":0.0248},{"x":7.3,"y":0.0299},{"x":7.4,"y":0.026},{"x":7.5,"y":0.0213},{"x":7.6,"y":0.0273},{"x":7.7,"y":0.0305},{"x":7.8,"y":0.0244},{"x":7.9,"y":0.0264},{"x":8.0,"y":0.0281},{"x":8.1,"y":0.0232},{"x":8.3,"y":0.0256},{"x":8.5,"y":0.029},{"x":8.6,"y":0.0242},{"x":8.8,"y":0.0271},{"x":9.0,"y":0.0226},{"x":9.1,"y":0.0259},{"x":9.3,"y":0.0282},{"x":9.5,"y":0.0247},{"x":9.7,"y":0.0267},{"x":9.9,"y":0.0234},{"x":10.2,"y":0.0253},{"x":10.5,"y":0.0298},{"x":10.8,"y":0.0262},{"x":11.0,"y":0.032},{"x":11.3,"y":0.0289},{"x":11.6,"y":0.0255},{"x":12.0,"y":0.0248},{"x":12.4,"y":0.0228},{"x":12.9,"y":0.0241},{"x":13.2,"y":0.0175},{"x":13.6,"y":0.0232},{"x":14.3,"y":0.0298},{"x":14.8,"y":0.0289},{"x":15.2,"y":0.0263},{"x":15.9,"y":0.0254},{"x":16.4,"y":0.0244},{"x":16.9,"y":0.0289},{"x":17.5,"y":0.0264},{"x":18.0,"y":0.025},{"x":18.6,"y":0.0259},{"x":19.3,"y":0.0261},{"x":19.8,"y":0.023},{"x":20.5,"y":0.0262},{"x":21.3,"y":0.0224},{"x":22.1,"y":0.0251},{"x":22.6,"y":0.0247},{"x":23.0,"y":0.0273},{"x":23.4,"y":0.0258},{"x":14.0,"y":0.0271},{"x":16.1,"y":0.0276},{"x":17.8,"y":0.0258},{"x":12.6,"y":0.0258},{"x":3.6,"y":0.0},{"x":3.9,"y":0.0},{"x":4.9,"y":0.0},{"x":5.9,"y":0.0},{"x":6.4,"y":0.0},{"x":7.0,"y":0.0},{"x":7.4,"y":0.0},{"x":7.9,"y":0.0},{"x":8.2,"y":0.0},{"x":9.6,"y":0.0},
{"x":2.6,"y":0.0251},{"x":2.9,"y":0.0266},{"x":3.3,"y":0.0244},{"x":3.5,"y":0.0273},{"x":3.8,"y":0.0236},{"x":4.0,"y":0.0256},{"x":4.2,"y":0.028},{"x":4.4,"y":0.0249},{"x":4.6,"y":0.0262},{"x":4.8,"y":0.0238},{"x":5.0,"y":0.027},{"x":5.2,"y":0.0252},{"x":5.4,"y":0.0285},{"x":5.6,"y":0.0246},{"x":5.8,"y":0.0267},{"x":6.0,"y":0.0233},{"x":6.2,"y":0.0277},{"x":6.4,"y":0.0258},{"x":6.6,"y":0.0241},{"x":6.8,"y":0.029},{"x":7.0,"y":0.0255},{"x":7.2,"y":0.027},{"x":7.4,"y":0.0236},{"x":7.6,"y":0.0262},{"x":7.8,"y":0.0284},{"x":8.0,"y":0.0249},{"x":8.2,"y":0.0268},{"x":8.4,"y":0.0239},{"x":8.7,"y":0.0257},{"x":8.9,"y":0.0278},{"x":9.2,"y":0.0244},{"x":9.4,"y":0.0264},{"x":9.8,"y":0.0252},{"x":10.0,"y":0.0273},{"x":10.4,"y":0.024},{"x":10.9,"y":0.0259},{"x":11.8,"y":0.0262},{"x":12.2,"y":0.0272},{"x":13.0,"y":0.025},{"x":13.8,"y":0.0265}],
"C_old":[{"x":1.6,"y":0.0217},{"x":1.8,"y":0.0196},{"x":2.0,"y":0.0231},{"x":2.3,"y":0.0267},{"x":2.5,"y":0.0207},{"x":2.7,"y":0.0245},{"x":2.9,"y":0.0278},{"x":3.1,"y":0.0226},{"x":3.3,"y":0.0252},{"x":3.4,"y":0.0204},{"x":3.6,"y":0.0239},{"x":3.8,"y":0.0265},{"x":3.9,"y":0.0218},{"x":4.1,"y":0.0247},{"x":4.2,"y":0.0199},{"x":4.4,"y":0.0258},{"x":4.5,"y":0.0233},{"x":4.7,"y":0.0271},{"x":4.8,"y":0.0213},{"x":5.0,"y":0.0244},{"x":5.1,"y":0.0226},{"x":5.3,"y":0.0262},{"x":5.4,"y":0.0205},{"x":5.6,"y":0.0237},{"x":5.7,"y":0.028},{"x":5.9,"y":0.0219},{"x":6.0,"y":0.0333},{"x":6.1,"y":0.025},{"x":6.3,"y":0.0211},{"x":6.4,"y":0.0241},{"x":6.5,"y":0.0296},{"x":6.6,"y":0.0228},{"x":6.7,"y":0.0044},{"x":6.8,"y":0.0263},{"x":6.9,"y":0.0203},{"x":7.0,"y":0.0308},{"x":7.1,"y":0.0235},{"x":7.2,"y":0.0256},{"x":7.4,"y":0.0215},{"x":7.5,"y":0.0246},{"x":7.6,"y":0.0408},{"x":7.7,"y":0.0224},{"x":7.8,"y":0.0269},{"x":8.0,"y":0.0208},{"x":8.1,"y":0.024},{"x":8.2,"y":0.0287},{"x":8.4,"y":0.0221},{"x":8.5,"y":0.0252},{"x":8.6,"y":0.014},{"x":8.7,"y":0.0231},{"x":8.9,"y":0.0108},{"x":9.0,"y":0.0259},{"x":9.1,"y":0.02},{"x":9.3,"y":0.0236},{"x":9.5,"y":0.0275},{"x":9.7,"y":0.0215},{"x":9.9,"y":0.0296},{"x":10.1,"y":0.0243},{"x":10.3,"y":0.0221},{"x":10.5,"y":0.0345},{"x":10.7,"y":0.0254},{"x":10.9,"y":0.0199},{"x":11.1,"y":0.017},{"x":11.3,"y":0.0232},{"x":11.6,"y":0.0251},{"x":11.9,"y":0.019},{"x":12.2,"y":0.0226},{"x":12.5,"y":0.021},{"x":12.8,"y":0.024},{"x":13.0,"y":0.016},{"x":13.3,"y":0.0224},{"x":13.7,"y":0.0234},{"x":14.0,"y":0.0196},{"x":14.5,"y":0.0247},{"x":14.9,"y":0.0221},{"x":15.4,"y":0.0214},{"x":15.9,"y":0.0295},{"x":16.4,"y":0.0219},{"x":17.0,"y":0.0222},{"x":17.6,"y":0.0244},{"x":18.2,"y":0.0216},{"x":18.6,"y":0.0214},{"x":19.3,"y":0.0207},{"x":19.7,"y":0.0199},{"x":20.6,"y":0.0225},{"x":21.2,"y":0.0222},{"x":22.4,"y":0.0202},{"x":22.9,"y":0.0201},{"x":23.5,"y":0.0198},{"x":12.0,"y":0.0262},{"x":14.2,"y":0.023},{"x":16.8,"y":0.0248},{"x":11.5,"y":0.0276},{"x":9.4,"y":0.0193},{"x":4.0,"y":0.0},{"x":5.0,"y":0.0},{"x":6.1,"y":0.0},{"x":7.1,"y":0.0},{"x":7.8,"y":0.0},{"x":8.3,"y":0.0},{"x":8.5,"y":0.0},{"x":8.7,"y":0.0},{"x":8.9,"y":0.0},{"x":9.1,"y":0.0},{"x":9.3,"y":0.0},{"x":10.1,"y":0.0},{"x":13.1,"y":0.0},{"x":18.9,"y":0.0},
{"x":2.4,"y":0.0238},{"x":2.6,"y":0.0222},{"x":2.8,"y":0.0256},{"x":3.0,"y":0.0212},{"x":3.2,"y":0.0243},{"x":3.5,"y":0.0229},{"x":3.7,"y":0.0251},{"x":4.0,"y":0.0235},{"x":4.3,"y":0.0221},{"x":4.6,"y":0.0249},{"x":4.9,"y":0.023},{"x":5.2,"y":0.0254},{"x":5.5,"y":0.0219},{"x":5.8,"y":0.0244},{"x":6.2,"y":0.0232},{"x":6.5,"y":0.0216},{"x":6.8,"y":0.0247},{"x":7.0,"y":0.0226},{"x":7.3,"y":0.0241},{"x":7.5,"y":0.0202},{"x":7.7,"y":0.0259},{"x":7.9,"y":0.0233},{"x":8.2,"y":0.0217},{"x":8.4,"y":0.0246},{"x":8.7,"y":0.0211},{"x":9.0,"y":0.0238},{"x":9.2,"y":0.0224},{"x":9.6,"y":0.025},{"x":9.8,"y":0.0209},{"x":10.2,"y":0.0235},{"x":10.6,"y":0.0226},{"x":11.0,"y":0.0241},{"x":11.4,"y":0.0214},{"x":12.0,"y":0.0236},{"x":12.6,"y":0.0229},{"x":13.5,"y":0.0252},{"x":14.3,"y":0.0238},{"x":15.2,"y":0.0247},{"x":16.1,"y":0.0233},{"x":17.3,"y":0.0218}],
"D_new":[{"x":29.1,"y":27.6},{"x":28.3,"y":26.2},{"x":30.2,"y":29.1},{"x":27.6,"y":28.4},{"x":31.0,"y":27.0},{"x":28.8,"y":24.6},{"x":29.7,"y":30.3},{"x":26.9,"y":27.2},{"x":30.6,"y":25.8},{"x":28.0,"y":29.5},{"x":29.4,"y":26.9},{"x":31.5,"y":28.6},{"x":27.3,"y":25.3},{"x":30.0,"y":31.7},{"x":28.6,"y":27.9},{"x":32.2,"y":26.4},{"x":26.5,"y":29.8},{"x":29.9,"y":24.1},{"x":28.2,"y":28.8},{"x":30.9,"y":30.6},{"x":27.8,"y":23.4},{"x":29.2,"y":29.0},{"x":33.0,"y":28.1},{"x":26.3,"y":33.5},{"x":30.4,"y":27.5},{"x":28.5,"y":31.2},{"x":31.8,"y":24.8},{"x":27.1,"y":30.5},{"x":29.6,"y":25.5},{"x":32.7,"y":31.0},{"x":28.9,"y":22.9},{"x":30.7,"y":28.4},{"x":26.7,"y":26.6},{"x":29.0,"y":33.0},{"x":31.3,"y":26.1},{"x":27.5,"y":27.0},{"x":30.1,"y":22.7},{"x":28.4,"y":30.0},{"x":34.5,"y":27.6},{"x":29.8,"y":28.2},{"x":26.1,"y":28.7},{"x":31.1,"y":32.9},{"x":28.1,"y":25.7},{"x":32.9,"y":25.0},{"x":29.3,"y":31.9},{"x":27.0,"y":22.6},{"x":30.5,"y":26.7},{"x":35.2,"y":30.1},{"x":28.7,"y":26.5},{"x":33.6,"y":28.9},{"x":26.4,"y":25.2},{"x":31.6,"y":29.7},{"x":29.5,"y":23.5},{"x":27.9,"y":32.4},{"x":30.3,"y":29.5},{"x":34.0,"y":26.0},{"x":28.0,"y":27.3},{"x":32.4,"y":33.6},{"x":29.1,"y":29.9},{"x":36.4,"y":28.0},{"x":25.9,"y":27.5},{"x":30.8,"y":24.4},{"x":27.4,"y":31.1},{"x":33.2,"y":27.3},{"x":29.7,"y":26.3},{"x":31.9,"y":21.6},{"x":33.8,"y":22.3},{"x":33.9,"y":38.8},{"x":35.6,"y":34.8},{"x":36.9,"y":31.6},{"x":20.1,"y":31.7},{"x":21.6,"y":23.1},{"x":21.4,"y":25.6},{"x":23.5,"y":31.8},{"x":23.5,"y":31.4},{"x":38.7,"y":26.4},{"x":40.7,"y":29.2},{"x":37.5,"y":29.6},{"x":34.8,"y":25.4},{"x":26.2,"y":33.9},{"x":36.0,"y":32.9},{"x":29.4,"y":34.3},{"x":32.0,"y":35.0},{"x":28.6,"y":24.0},{"x":31.4,"y":23.2},{"x":35.5,"y":26.8},{"x":26.8,"y":30.3},{"x":25.3,"y":28.5},
{"x":28.9,"y":28.3},{"x":29.6,"y":27.1},{"x":30.5,"y":28.8},{"x":27.7,"y":26.1},{"x":31.2,"y":29.3},{"x":28.4,"y":27.7},{"x":29.9,"y":26.0},{"x":27.2,"y":29.0},{"x":30.8,"y":27.8},{"x":28.7,"y":25.4},{"x":29.4,"y":28.5},{"x":31.7,"y":27.2},{"x":27.9,"y":27.8},{"x":30.2,"y":25.1},{"x":28.3,"y":29.7},{"x":32.5,"y":28.5},{"x":26.6,"y":27.9},{"x":29.8,"y":29.2},{"x":28.1,"y":24.3},{"x":31.0,"y":26.6},{"x":27.4,"y":26.3},{"x":29.2,"y":27.4},{"x":30.6,"y":30.0},{"x":26.9,"y":25.0},{"x":30.0,"y":27.2},{"x":28.6,"y":28.9},{"x":32.1,"y":27.7},{"x":27.0,"y":28.1},{"x":29.5,"y":29.6},{"x":31.4,"y":25.5},{"x":28.2,"y":26.8},{"x":30.3,"y":24.6},{"x":26.4,"y":27.0},{"x":29.1,"y":25.9},{"x":31.9,"y":28.3},{"x":27.6,"y":24.8},{"x":30.1,"y":28.5},{"x":28.5,"y":23.6},{"x":33.3,"y":26.8},{"x":29.7,"y":27.7},{"x":26.2,"y":26.2},{"x":30.9,"y":29.0},{"x":28.0,"y":28.6},{"x":32.8,"y":27.4},{"x":29.3,"y":24.8},{"x":27.3,"y":27.6},{"x":30.4,"y":26.4},{"x":34.2,"y":29.0},{"x":28.8,"y":30.8},{"x":31.5,"y":27.0}],
"D_old":[{"x":29.3,"y":30.4},{"x":28.5,"y":29.0},{"x":30.4,"y":31.8},{"x":27.8,"y":28.2},{"x":31.2,"y":30.9},{"x":29.0,"y":27.3},{"x":30.0,"y":33.2},{"x":27.2,"y":29.6},{"x":30.8,"y":28.7},{"x":28.2,"y":31.9},{"x":29.6,"y":29.7},{"x":31.7,"y":33.6},{"x":27.5,"y":26.8},{"x":30.2,"y":35.3},{"x":28.8,"y":30.7},{"x":32.4,"y":31.2},{"x":26.7,"y":31.3},{"x":30.1,"y":26.4},{"x":28.4,"y":32.8},{"x":31.1,"y":28.3},{"x":28.0,"y":25.7},{"x":29.4,"y":31.5},{"x":33.2,"y":34.9},{"x":26.5,"y":28.6},{"x":30.6,"y":30.1},{"x":28.7,"y":33.4},{"x":32.0,"y":29.2},{"x":27.3,"y":32.2},{"x":29.8,"y":28.0},{"x":32.9,"y":36.7},{"x":29.1,"y":25.4},{"x":30.9,"y":32.6},{"x":26.9,"y":30.0},{"x":29.2,"y":34.6},{"x":31.5,"y":27.6},{"x":27.7,"y":30.9},{"x":30.3,"y":24.7},{"x":28.6,"y":28.5},{"x":34.7,"y":33.0},{"x":30.0,"y":30.3},{"x":26.3,"y":27.3},{"x":31.3,"y":35.0},{"x":28.3,"y":27.1},{"x":33.1,"y":30.5},{"x":29.5,"y":32.3},{"x":27.1,"y":33.8},{"x":30.7,"y":29.4},{"x":35.3,"y":32.1},{"x":28.9,"y":31.0},{"x":33.7,"y":33.3},{"x":26.6,"y":26.0},{"x":31.8,"y":31.7},{"x":29.7,"y":26.9},{"x":28.1,"y":34.9},{"x":30.5,"y":31.4},{"x":34.2,"y":31.6},{"x":28.2,"y":29.8},{"x":32.6,"y":33.1},{"x":29.3,"y":28.6},{"x":36.6,"y":32.0},{"x":26.0,"y":30.7},{"x":31.0,"y":30.0},{"x":27.6,"y":32.6},{"x":33.4,"y":29.5},{"x":29.9,"y":29.3},{"x":27.2,"y":40.6},{"x":20.1,"y":35.1},{"x":33.8,"y":37.3},{"x":38.9,"y":29.8},{"x":36.8,"y":26.7},{"x":20.8,"y":29.7},{"x":21.6,"y":25.4},{"x":23.8,"y":34.0},{"x":25.0,"y":28.9},{"x":24.4,"y":26.4},{"x":35.9,"y":35.1},{"x":37.2,"y":30.3},{"x":34.4,"y":28.2},{"x":32.2,"y":23.4},{"x":28.4,"y":36.0},{"x":26.2,"y":35.8},{"x":31.9,"y":36.5},{"x":30.2,"y":27.9},{"x":27.9,"y":24.9},{"x":29.0,"y":23.7},{"x":32.8,"y":28.0},{"x":35.0,"y":30.8},{"x":25.6,"y":32.6},
{"x":29.0,"y":29.9},{"x":29.8,"y":31.2},{"x":30.7,"y":30.4},{"x":28.0,"y":29.3},{"x":31.4,"y":31.8},{"x":28.6,"y":28.0},{"x":30.1,"y":29.1},{"x":27.4,"y":30.6},{"x":31.0,"y":32.3},{"x":28.9,"y":29.4},{"x":29.5,"y":30.9},{"x":32.0,"y":30.6},{"x":27.9,"y":28.8},{"x":30.4,"y":32.9},{"x":28.3,"y":30.2},{"x":32.7,"y":32.3},{"x":26.8,"y":29.4},{"x":30.0,"y":28.4},{"x":28.5,"y":31.3},{"x":31.3,"y":29.7},{"x":27.5,"y":27.7},{"x":29.3,"y":30.1},{"x":30.8,"y":33.4},{"x":27.1,"y":28.0},{"x":30.3,"y":31.1},{"x":28.8,"y":32.2},{"x":32.3,"y":30.3},{"x":27.0,"y":31.0},{"x":29.7,"y":30.6},{"x":31.6,"y":29.0},{"x":28.1,"y":30.8},{"x":30.6,"y":27.1},{"x":26.4,"y":29.0},{"x":29.1,"y":32.8},{"x":32.0,"y":33.4},{"x":27.8,"y":26.9},{"x":30.2,"y":30.8},{"x":28.7,"y":27.4},{"x":33.5,"y":31.9},{"x":29.6,"y":31.7},{"x":26.7,"y":30.2},{"x":31.1,"y":31.5},{"x":28.2,"y":28.9},{"x":33.0,"y":32.0},{"x":29.4,"y":29.0},{"x":27.3,"y":31.4},{"x":30.5,"y":29.8},{"x":34.5,"y":34.2},{"x":28.4,"y":33.5},{"x":31.8,"y":30.2}]
},
"bounds":"flush",
"columns":3,
"align":"each",
"spacing":{"row":43,"column":61},
"resolve":{"scale":{"color":"independent"}},
"concat":[
 {"width":217,"height":177,
  "layer":[
   {"data":{"name":"A_old"},"mark":{"type":"circle","size":11,"opacity":1,"color":"#f21b1b"},
    "encoding":{"x":{"field":"x","type":"quantitative","scale":{"domain":[-1,26],"nice":false,"zero":false},"axis":{"values":[0,5,10,15,20,25],"tickCount":20,"title":null,"labelOverlap":false}},
     "y":{"field":"y","type":"quantitative","scale":{"domain":[-0.0016,0.0468],"nice":false,"zero":false},"axis":{"values":[0,0.01,0.02,0.03,0.04],"tickCount":20,"format":".2f","title":"Elongation rates (min⁻¹)","titlePadding":6,"labelOverlap":false}}}},
   {"data":{"name":"A_new"},"mark":{"type":"circle","size":11,"opacity":1,"color":"#1818f0"},
    "encoding":{"x":{"field":"x","type":"quantitative"},"y":{"field":"y","type":"quantitative"}}},
   {"data":{"name":"panels"},"transform":[{"filter":"datum.panel==='A'"}],"mark":{"type":"text","align":"left","baseline":"middle","fontSize":16,"fontWeight":"bold","color":"#333"},
    "encoding":{"x":{"datum":-0.12},"y":{"datum":0.0447},"text":{"field":"letter"}}},
   {"data":{"name":"panels"},"transform":[{"filter":"datum.panel==='A'"}],"mark":{"type":"text","align":"left","baseline":"middle","fontSize":16,"fontStyle":"italic","color":"#333"},
    "encoding":{"x":{"datum":2.1},"y":{"datum":0.0447},"text":{"field":"strain"}}}
  ]},
 {"width":219,"height":177,
  "layer":[
   {"data":{"name":"B_new"},"mark":{"type":"circle","size":5,"opacity":1,"color":"#1818f0"},
    "encoding":{"x":{"field":"x","type":"quantitative","scale":{"domain":[18.45,33.55],"nice":false,"zero":false},"axis":{"values":[20,22,24,26,28,30,32],"tickCount":20,"title":null,"labelOverlap":false}},
     "y":{"field":"y","type":"quantitative","scale":{"domain":[18.45,33.55],"nice":false,"zero":false},"axis":{"values":[20,22,24,26,28,30,32],"tickCount":20,"title":"Daughter doubling time (min)","titlePadding":5,"labelOverlap":false}}}},
   {"data":{"name":"B_old"},"mark":{"type":"circle","size":5,"opacity":1,"color":"#f21b1b"},
    "encoding":{"x":{"field":"x","type":"quantitative"},"y":{"field":"y","type":"quantitative"}}},
   {"data":{"name":"B_lines"},"transform":[{"filter":"datum.g==='Diag'"}],"mark":{"type":"line","color":"#000","strokeWidth":1.2},
    "encoding":{"x":{"field":"x","type":"quantitative"},"y":{"field":"y","type":"quantitative"}}},
   {"data":{"name":"B_lines"},"transform":[{"filter":"datum.g==='New'"}],"mark":{"type":"line","color":"#14148f","strokeWidth":3},
    "encoding":{"x":{"field":"x","type":"quantitative"},"y":{"field":"y","type":"quantitative"}}},
   {"data":{"name":"B_lines"},"transform":[{"filter":"datum.g==='Old'"}],"mark":{"type":"line","color":"#8f1414","strokeWidth":3},
    "encoding":{"x":{"field":"x","type":"quantitative"},"y":{"field":"y","type":"quantitative"}}},
   {"data":{"name":"panels"},"transform":[{"filter":"datum.panel==='B'"}],"mark":{"type":"text","align":"left","baseline":"middle","fontSize":16,"fontWeight":"bold","color":"#333"},
    "encoding":{"x":{"datum":18.9},"y":{"datum":32.88},"text":{"field":"letter"}}},
   {"data":{"name":"panels"},"transform":[{"filter":"datum.panel==='B'"}],"mark":{"type":"text","align":"left","baseline":"middle","fontSize":16,"fontStyle":"italic","color":"#333"},
    "encoding":{"x":{"datum":19.93},"y":{"datum":32.88},"text":{"field":"strain"}}}
  ]},
 {"width":100,"height":177,"data":{"name":"legend"},
  "encoding":{"y":{"field":"label","type":"nominal","sort":null,"scale":{"type":"point","domain":["New daughters","Old daughters","New subpopulation","Old subpopulation"],"range":[66.7,108.3],"padding":0},"axis":null}},
  "layer":[
   {"transform":[{"filter":"indexof(datum.label,'daughters')>=0"}],"mark":{"type":"point","filled":true,"size":36,"opacity":1},
    "encoding":{"x":{"datum":0,"type":"quantitative","scale":{"domain":[0,1],"range":[-18.4,5.6]},"axis":null},
     "color":{"field":"label","type":"nominal","scale":{"domain":["New daughters","Old daughters","New subpopulation","Old subpopulation"],"range":["#1818f0","#f21b1b","#14148f","#8f1414"]},"legend":null}}},
   {"transform":[{"filter":"indexof(datum.label,'subpopulation')>=0"}],"mark":{"type":"point","shape":"stroke","filled":false,"size":150,"strokeWidth":2,"opacity":1},
    "encoding":{"x":{"datum":0.06,"type":"quantitative"},
     "color":{"field":"label","type":"nominal","legend":null}}},
   {"mark":{"type":"text","align":"left","baseline":"middle","fontSize":11.5,"color":"#222"},
    "encoding":{"x":{"datum":1,"type":"quantitative"},"text":{"field":"label"}}}
  ]},
 {"width":217,"height":178,
  "layer":[
   {"data":{"name":"C_old"},"mark":{"type":"circle","size":11,"opacity":1,"color":"#f21b1b"},
    "encoding":{"x":{"field":"x","type":"quantitative","scale":{"domain":[-1,26],"nice":false,"zero":false},"axis":{"values":[0,5,10,15,20,25],"tickCount":20,"title":"Time (h)","titlePadding":4,"labelOverlap":false}},
     "y":{"field":"y","type":"quantitative","scale":{"domain":[-0.0017,0.0471],"nice":false,"zero":false},"axis":{"values":[0,0.01,0.02,0.03,0.04],"tickCount":20,"format":".2f","title":"Elongation rates (min⁻¹)","titlePadding":6,"labelOverlap":false}}}},
   {"data":{"name":"C_new"},"mark":{"type":"circle","size":11,"opacity":1,"color":"#1818f0"},
    "encoding":{"x":{"field":"x","type":"quantitative"},"y":{"field":"y","type":"quantitative"}}},
   {"data":{"name":"panels"},"transform":[{"filter":"datum.panel==='C'"}],"mark":{"type":"text","align":"left","baseline":"middle","fontSize":16,"fontWeight":"bold","color":"#333"},
    "encoding":{"x":{"datum":-0.16},"y":{"datum":0.0446},"text":{"field":"letter"}}},
   {"data":{"name":"panels"},"transform":[{"filter":"datum.panel==='C'"}],"mark":{"type":"text","align":"left","baseline":"middle","fontSize":16,"fontStyle":"italic","color":"#333"},
    "encoding":{"x":{"datum":1.75},"y":{"datum":0.0446},"text":{"field":"strain"}}}
  ]},
 {"width":219,"height":178,
  "layer":[
   {"data":{"name":"D_new"},"mark":{"type":"circle","size":5,"opacity":1,"color":"#1818f0"},
    "encoding":{"x":{"field":"x","type":"quantitative","scale":{"domain":[17.9,43.05],"nice":false,"zero":false},"axis":{"values":[20,25,30,35,40],"tickCount":20,"title":"Maternal doubling time (min)","titlePadding":14,"labelOverlap":false}},
     "y":{"field":"y","type":"quantitative","scale":{"domain":[18.1,43.1],"nice":false,"zero":false},"axis":{"values":[20,25,30,35,40],"tickCount":20,"title":"Daughter doubling time (min)","titlePadding":5,"labelOverlap":false}}}},
   {"data":{"name":"D_old"},"mark":{"type":"circle","size":5,"opacity":1,"color":"#f21b1b"},
    "encoding":{"x":{"field":"x","type":"quantitative"},"y":{"field":"y","type":"quantitative"}}},
   {"data":{"name":"D_lines"},"transform":[{"filter":"datum.g==='Diag'"}],"mark":{"type":"line","color":"#000","strokeWidth":1.2},
    "encoding":{"x":{"field":"x","type":"quantitative"},"y":{"field":"y","type":"quantitative"}}},
   {"data":{"name":"D_lines"},"transform":[{"filter":"datum.g==='New'"}],"mark":{"type":"line","color":"#14148f","strokeWidth":3},
    "encoding":{"x":{"field":"x","type":"quantitative"},"y":{"field":"y","type":"quantitative"}}},
   {"data":{"name":"D_lines"},"transform":[{"filter":"datum.g==='Old'"}],"mark":{"type":"line","color":"#8f1414","strokeWidth":3},
    "encoding":{"x":{"field":"x","type":"quantitative"},"y":{"field":"y","type":"quantitative"}}},
   {"data":{"name":"panels"},"transform":[{"filter":"datum.panel==='D'"}],"mark":{"type":"text","align":"left","baseline":"middle","fontSize":16,"fontWeight":"bold","color":"#333"},
    "encoding":{"x":{"datum":18.78},"y":{"datum":41.86},"text":{"field":"letter"}}},
   {"data":{"name":"panels"},"transform":[{"filter":"datum.panel==='D'"}],"mark":{"type":"text","align":"left","baseline":"middle","fontSize":16,"fontStyle":"italic","color":"#333"},
    "encoding":{"x":{"datum":20.57},"y":{"datum":41.86},"text":{"field":"strain"}}}
  ]},
 {"width":122,"height":178,"data":{"name":"E"},
  "encoding":{"x":{"field":"strain","type":"nominal","sort":["ΔclpB","ΔdnaK"],"scale":{"paddingInner":0.3,"paddingOuter":0.133,"align":0.94},"axis":{"title":null,"domain":false,"ticks":false,"labelAngle":0,"labelFontStyle":"italic","labelPadding":12}}},
  "layer":[
   {"mark":{"type":"bar","stroke":"#000","strokeWidth":1},
    "encoding":{"xOffset":{"field":"g","type":"nominal","sort":["New","Old"],"scale":{"paddingInner":0,"paddingOuter":0}},
     "y":{"field":"v","type":"quantitative","scale":{"domain":[0,1],"nice":false},"axis":{"values":[0,0.2,0.4,0.6,0.8,1.0],"tickCount":20,"format":".1f","title":"Stability estimate (a² + δ₁²)","titlePadding":10,"tickSize":5,"offset":-10.5,"labelOverlap":false}},
     "color":{"field":"g","type":"nominal","scale":{"domain":["New","Old"],"range":["#1010f0","#f01818"]},"legend":null}}},
   {"mark":{"type":"rule","color":"#000","strokeWidth":1.5},
    "encoding":{"xOffset":{"field":"g","type":"nominal","sort":["New","Old"]},"y":{"field":"lo","type":"quantitative"},"y2":{"field":"hi"}}},
   {"mark":{"type":"tick","color":"#000","thickness":1.5,"size":10},
    "encoding":{"xOffset":{"field":"g","type":"nominal","sort":["New","Old"]},"y":{"field":"lo","type":"quantitative"}}},
   {"mark":{"type":"tick","color":"#000","thickness":1.5,"size":10},
    "encoding":{"xOffset":{"field":"g","type":"nominal","sort":["New","Old"]},"y":{"field":"hi","type":"quantitative"}}},
   {"data":{"name":"panels"},"transform":[{"filter":"datum.panel==='E'"}],"mark":{"type":"text","align":"left","baseline":"middle","fontSize":16,"fontWeight":"bold","color":"#333","dx":-23},
    "encoding":{"x":{"datum":"ΔclpB","type":"nominal"},"y":{"datum":0.955,"type":"quantitative"},"text":{"field":"letter"}}}
  ]}
]
}
